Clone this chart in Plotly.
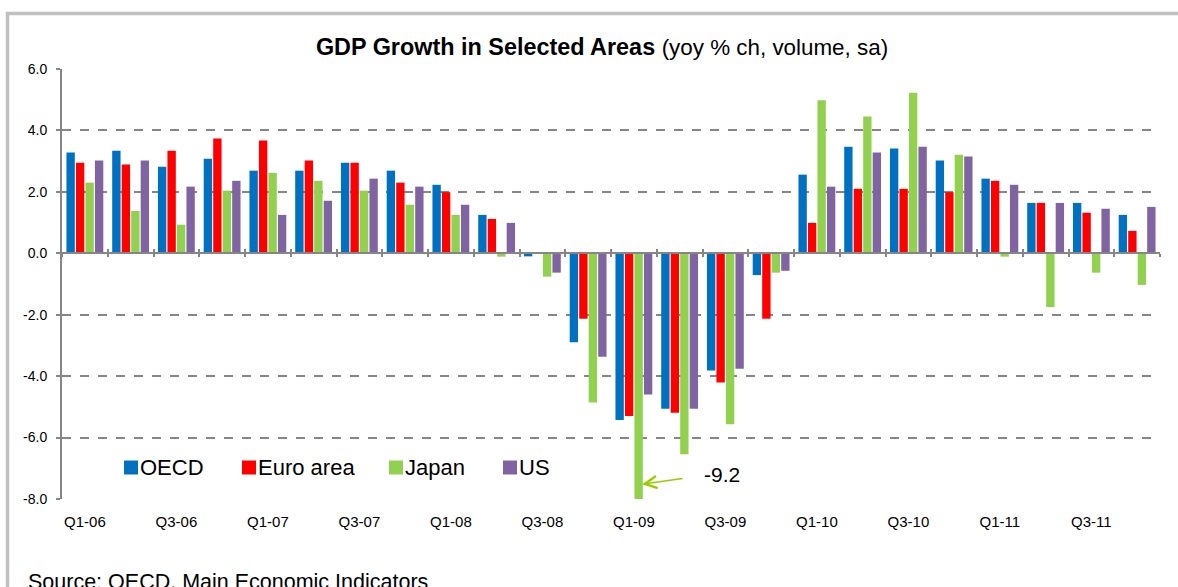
import plotly.graph_objects as go

# ---------------- data ----------------
quarters = ["Q1-06", "Q2-06", "Q3-06", "Q4-06",
            "Q1-07", "Q2-07", "Q3-07", "Q4-07",
            "Q1-08", "Q2-08", "Q3-08", "Q4-08",
            "Q1-09", "Q2-09", "Q3-09", "Q4-09",
            "Q1-10", "Q2-10", "Q3-10", "Q4-10",
            "Q1-11", "Q2-11", "Q3-11", "Q4-11"]

oecd = [3.28, 3.34, 2.82, 3.08, 2.69, 2.69, 2.95, 2.69, 2.23, 1.25, -0.10, -2.90,
        -5.43, -5.06, -3.82, -0.71, 2.56, 3.47, 3.41, 3.02, 2.43, 1.64, 1.64, 1.25]
euro_area = [2.95, 2.89, 3.34, 3.74, 3.67, 3.02, 2.95, 2.30, 1.99, 1.12, 0.0, -2.13,
             -5.30, -5.19, -4.21, -2.13, 0.99, 2.10, 2.10, 1.99, 2.36, 1.64, 1.32, 0.73]
japan = [2.30, 1.38, 0.93, 2.04, 2.62, 2.36, 2.04, 1.58, 1.25, -0.11, -0.76, -4.86,
         -9.2, -6.54, -5.57, -0.63, 4.98, 4.45, 5.23, 3.21, -0.11, -1.75, -0.63, -1.03]
us = [3.02, 3.02, 2.17, 2.36, 1.25, 1.71, 2.43, 2.17, 1.58, 0.99, -0.63, -3.37,
      -4.60, -5.06, -3.76, -0.57, 2.17, 3.28, 3.47, 3.15, 2.23, 1.64, 1.45, 1.51]

series_names = ["OECD", "Euro area", "Japan", "US"]
series_colors = ["#0070C0", "#FF0000", "#92D050", "#8064A2"]

y_tick_vals = [6, 4, 2, 0, -2, -4, -6, -8]
y_tick_text = ["6.0", "4.0", "2.0", "0.0", "-2.0", "-4.0", "-6.0", "-8.0"]
x_tick_labels = quarters[::2]

title_main = "GDP Growth in Selected Areas"
title_sub = "(yoy % ch, volume, sa)"
source_text = "Source: OECD, Main Economic Indicators"
callout_text = "-9.2"

# ---------------- layout geometry (pixels) ----------------
W, H = 1178, 587
ML, MR, MT, MB = 62, 18, 69, 88
PW, PH = W - ML - MR, H - MT - MB


def px_x(px):
    return (px - ML) / PW


def px_y(py):
    return (H - MB - py) / PH


FONT = "Liberation Sans, Arial, sans-serif"
GRID = "#868686"

fig = go.Figure()
for name, vals, col in zip(series_names, [oecd, euro_area, japan, us], series_colors):
    fig.add_trace(go.Bar(x=quarters, y=vals, name=name, marker_color=col,
                         marker_line_width=0, showlegend=False))

# helper traces so the crossing tick marks on the zero axis are drawn
for ax in ["x2", "x3"]:
    fig.add_trace(go.Scatter(x=quarters, y=[0] * len(quarters), xaxis=ax, yaxis="y",
                             mode="markers", marker=dict(size=0.1, opacity=0),
                             showlegend=False, hoverinfo="skip"))

y_min, y_max = -8, 6
zero_pos = (0 - y_min) / (y_max - y_min)

fig.update_layout(
    width=W, height=H,
    margin=dict(l=ML, r=MR, t=MT, b=MB),
    paper_bgcolor="white", plot_bgcolor="white",
    font=dict(family=FONT, color="#000000"),
    barmode="group", bargap=0.17, bargroupgap=0.12,
    title=dict(
        text=f"<b>{title_main}</b> <span style='font-size:22.4px'>{title_sub}</span>",
        x=602 / W, xanchor="center", y=1 - 47 / H, yanchor="middle",
        yref="container", font=dict(size=23.4, family=FONT, color="#000000")),
    showlegend=False,
    xaxis=dict(type="category", categoryorder="array", categoryarray=quarters,
               range=[-0.5, len(quarters) - 0.5],
               tickmode="array", tickvals=x_tick_labels, ticktext=x_tick_labels,
               ticks="", ticklabelstandoff=12, showline=False, showgrid=False,
               zeroline=False, tickfont=dict(size=15, family=FONT, color="#000000")),
    xaxis2=dict(type="category", categoryorder="array", categoryarray=quarters,
                range=[-0.5, len(quarters) - 0.5], overlaying="x", anchor="free",
                position=zero_pos, side="bottom", showline=True, linecolor=GRID,
                linewidth=2, ticks="outside", tickson="boundaries", ticklen=3,
                tickwidth=2, tickcolor=GRID, showticklabels=False, showgrid=False,
                zeroline=False),
    xaxis3=dict(type="category", categoryorder="array", categoryarray=quarters,
                range=[-0.5, len(quarters) - 0.5], overlaying="x", anchor="free",
                position=zero_pos, side="bottom", showline=False,
                ticks="inside", tickson="boundaries", ticklen=4,
                tickwidth=2, tickcolor=GRID, showticklabels=False, showgrid=False,
                zeroline=False),
    yaxis=dict(range=[y_min, y_max], tickmode="array", tickvals=y_tick_vals,
               ticktext=y_tick_text, showgrid=True, gridcolor=GRID, gridwidth=2,
               griddash="dash", zeroline=True, zerolinecolor=GRID, zerolinewidth=2,
               showline=True, linecolor=GRID, linewidth=2, ticks="outside",
               ticklen=4, tickwidth=2, tickcolor=GRID, ticklabelstandoff=6,
               tickfont=dict(size=14, family=FONT, color="#000000")),
)

# outer chart frame (light grey), extends past the right and bottom edges
fig.add_shape(type="rect", xref="paper", yref="paper",
              x0=px_x(7.5), x1=px_x(1230), y0=px_y(640), y1=px_y(13.5),
              line=dict(color="#C0C0C0", width=3.5), fillcolor="rgba(0,0,0,0)",
              layer="below")

# legend drawn inside the plot area (square swatch + label)
legend_left_px = [124, 242, 389, 503]
legend_mid_py = 467.5
swatch = 14
for name, col, lx in zip(series_names, series_colors, legend_left_px):
    fig.add_shape(type="rect", xref="paper", yref="paper",
                  x0=px_x(lx), x1=px_x(lx + swatch),
                  y0=px_y(legend_mid_py + swatch / 2), y1=px_y(legend_mid_py - swatch / 2),
                  line=dict(width=0), fillcolor=col)
    fig.add_annotation(x=px_x(lx + swatch), y=px_y(legend_mid_py), xref="paper", yref="paper",
                       text=name, showarrow=False, xanchor="left", yanchor="middle",
                       font=dict(size=22, family=FONT, color="#000000"))

# call-out arrow for the clipped Japan bar
jp_idx = quarters.index("Q1-09")
fig.add_annotation(x=jp_idx + 0.18, y=-7.52, xref="x", yref="y", text="",
                   showarrow=True, arrowhead=5, arrowsize=1.6, arrowwidth=1.5,
                   arrowcolor="#99CC00", ax=42, ay=-6)
fig.add_annotation(x=jp_idx + 0.18, y=-7.52, xref="x", yref="y", text=callout_text,
                   showarrow=False, xshift=80, yshift=10,
                   font=dict(size=21, family=FONT, color="#000000"))

# source note (cut by the bottom edge, as in the reference)
fig.add_annotation(x=px_x(26), y=px_y(582), xref="paper", yref="paper",
                   text=source_text, showarrow=False, xanchor="left", yanchor="middle",
                   font=dict(size=21.5, family=FONT, color="#000000"))

fig.write_html(
    "out.html",
    config={"displayModeBar": False},
    post_script="document.body.style.margin='0';document.body.style.overflow='hidden';",
)
